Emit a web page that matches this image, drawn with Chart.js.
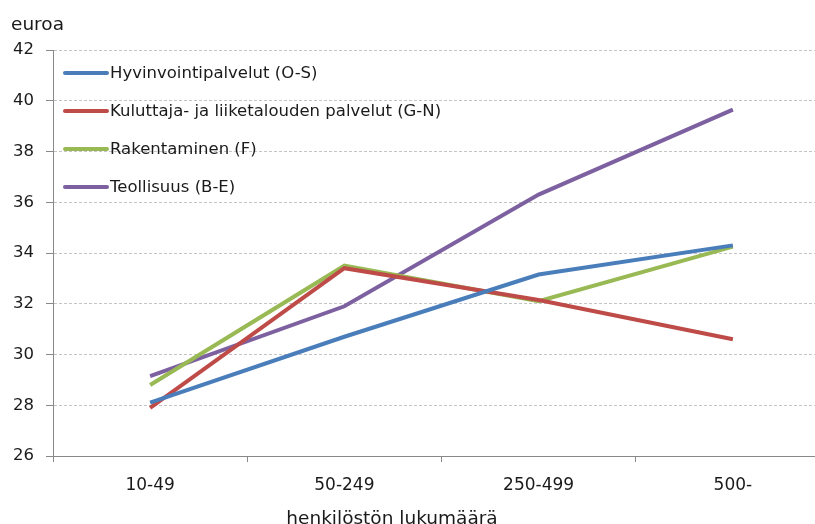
<!DOCTYPE html>
<html>
<head>
<meta charset="utf-8">
<script src="https://cdn.jsdelivr.net/npm/chart.js@4"></script>
<style>
  body { margin: 0; overflow: hidden; background: #fff; font-family: "DejaVu Sans", sans-serif; }
  #wrap { position: relative; width: 830px; height: 524px; }
  .lbl { position: absolute; color: #1a1a1a; white-space: nowrap; line-height: 1; }
  #legend { position: absolute; left: 63px; top: 54px; }
  .item { height: 38px; display: flex; align-items: center; font-size: 16.5px; line-height: 1; color: #1a1a1a; }
  .item span.ln { display: inline-block; width: 46px; height: 4px; margin-right: 1px; border-radius: 2px; }
</style>
</head>
<body>
<div id="wrap">
  <canvas id="chart"></canvas>
  <div class="lbl" style="left:11px;top:15px;font-size:18.5px;">euroa</div>
  <div class="lbl" id="xtitle" style="left:392px;top:509px;font-size:18.5px;transform:translateX(-50%);">henkilöstön lukumäärä</div>
  <div id="legend"></div>
</div>
<script>
const categories = ["10-49", "50-249", "250-499", "500-"];
const seriesNames = [
  "Hyvinvointipalvelut (O-S)",
  "Kuluttaja- ja liiketalouden palvelut (G-N)",
  "Rakentaminen (F)",
  "Teollisuus (B-E)"
];
const hyvinvointi = [28.1, 30.7, 33.15, 34.3];
const kuluttaja = [27.9, 33.4, 32.15, 30.6];
const rakentaminen = [28.8, 33.5, 32.1, 34.25];
const teollisuus = [29.15, 31.9, 36.3, 39.65];
const colors = ["#4a7ebb", "#be4b48", "#98b954", "#7d60a0"];
const yTicks = [26, 28, 30, 32, 34, 36, 38, 40, 42];

const allValues = [hyvinvointi, kuluttaja, rakentaminen, teollisuus];

// legend sits inside the plot area, top left
const legend = document.getElementById("legend");
seriesNames.forEach((name, i) => {
  const div = document.createElement("div");
  div.className = "item";
  div.innerHTML = `<span class="ln" style="background:${colors[i]}"></span>${name}`;
  legend.appendChild(div);
});

const chart = new Chart(document.getElementById("chart"), {
  type: "line",
  data: {
    labels: categories,
    datasets: seriesNames.map((name, i) => ({
      label: name,
      data: allValues[i],
      borderColor: colors[i],
      backgroundColor: colors[i],
      borderWidth: 4,
      pointRadius: 0,
      tension: 0
    }))
  },
  options: {
    responsive: true,
    maintainAspectRatio: false,
    animation: false,
    layout: { padding: { left: 0, right: 0, top: 50, bottom: 0 } },
    plugins: { legend: { display: false }, tooltip: { enabled: false } },
    scales: {
      x: {
        offset: true,
        afterFit: (s) => { s.height = 68; },
        grid: { offset: true, drawOnChartArea: false, drawTicks: true, tickLength: 6, color: "#888" },
        border: { color: "#888", width: 1 },
        ticks: { color: "#1a1a1a", font: { family: "DejaVu Sans", size: 17 }, padding: 13 }
      },
      y: {
        min: 26,
        max: 42,
        afterFit: (s) => { s.width = 53; },
        afterBuildTicks: (s) => { s.ticks = yTicks.map(v => ({ value: v })); },
        grid: { color: "#c4c4c4", tickColor: "#888", tickLength: 7 },
        border: { color: "#888", dash: [3, 2] },
        ticks: { color: "#1a1a1a", font: { family: "DejaVu Sans", size: 16.5 }, padding: 12 }
      }
    }
  }
});
</script>
</body>
</html>
